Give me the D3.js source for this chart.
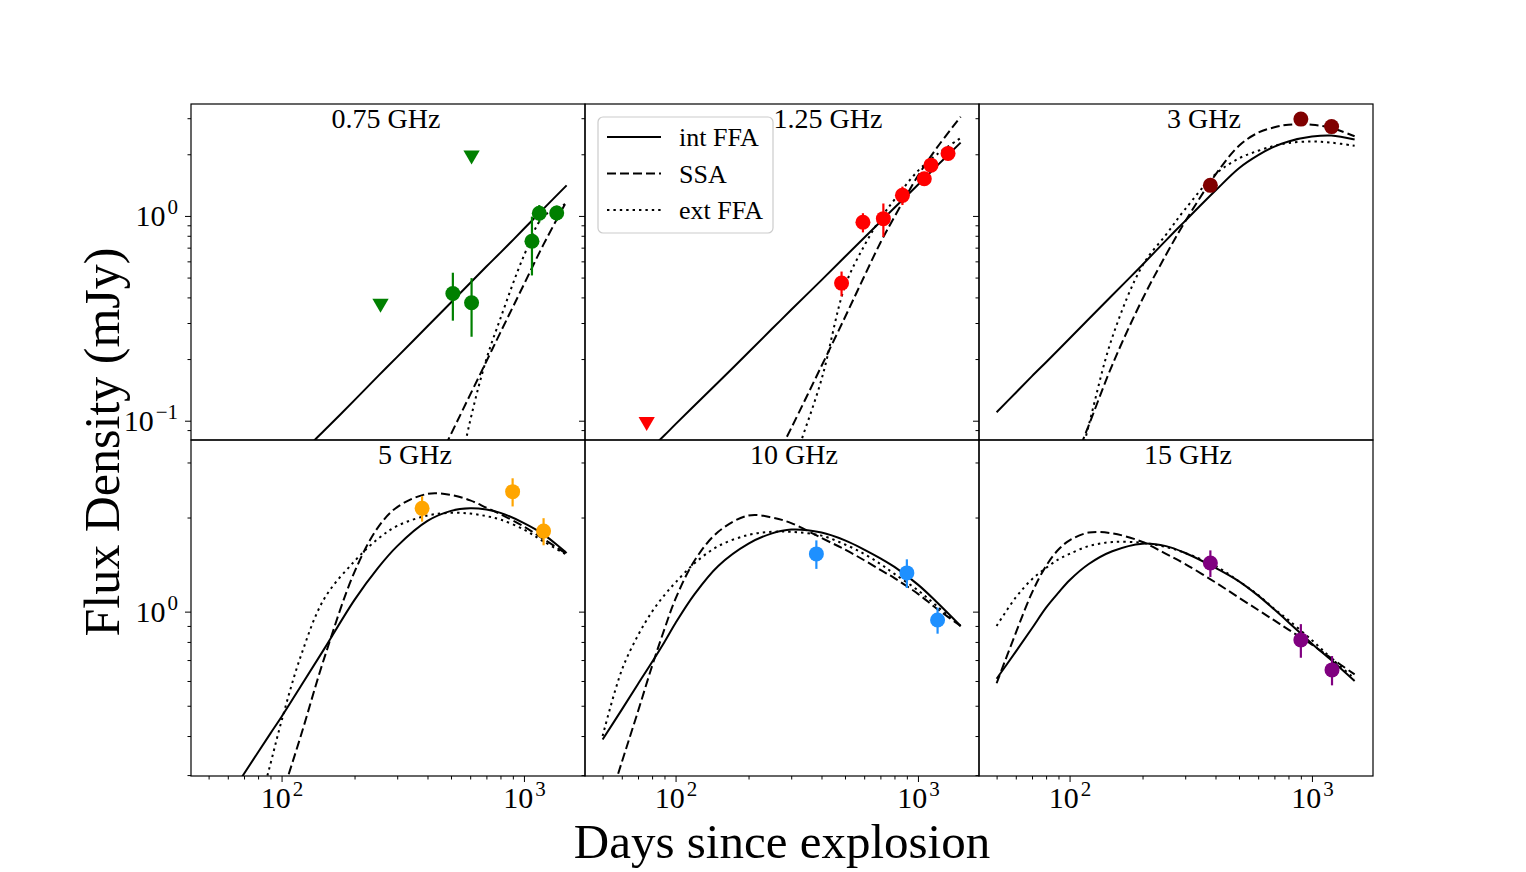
<!DOCTYPE html>
<html>
<head>
<meta charset="utf-8">
<script src="https://cdnjs.cloudflare.com/ajax/libs/d3/7.8.5/d3.min.js"></script>
<style>
  body { margin: 0; background: #fff; }
  svg { display: block; font-family: "Liberation Serif", "Times New Roman", serif; }
</style>
</head>
<body>
<svg id="chart" width="1526" height="872"></svg>
<script>
// Bands, one panel each
const bands = ["0.75 GHz", "1.25 GHz", "3 GHz", "5 GHz", "10 GHz", "15 GHz"];
const bandColors = ["green", "red", "#800000", "orange", "dodgerblue", "purple"];

// Model curves, sampled on this grid of days
const modelDays = [50, 60, 70, 80, 90, 100, 120, 150, 200, 250, 300, 400, 500, 600, 700, 800, 1000, 1200, 1500];

const intFFA = [
  [0.024, 0.030, 0.036, 0.042, 0.049, 0.055, 0.069, 0.0895, 0.126, 0.165, 0.205, 0.289, 0.378, 0.47, 0.566, 0.662, 0.865, 1.08, 1.41],
  [0.0428, 0.0529, 0.0634, 0.0741, 0.0849, 0.0962, 0.119, 0.154, 0.216, 0.281, 0.348, 0.486, 0.632, 0.782, 0.937, 1.096, 1.42, 1.76, 2.28],
  [0.110, 0.137, 0.165, 0.193, 0.222, 0.252, 0.314, 0.41, 0.578, 0.76, 0.946, 1.33, 1.71, 1.98, 2.18, 2.31, 2.44, 2.47, 2.36],
  [0.203, 0.252, 0.303, 0.355, 0.408, 0.461, 0.577, 0.76, 1.09, 1.38, 1.62, 1.95, 2.10, 2.14, 2.12, 2.07, 1.92, 1.77, 1.54],
  [0.39, 0.486, 0.587, 0.69, 0.80, 0.92, 1.14, 1.40, 1.65, 1.78, 1.83, 1.79, 1.69, 1.58, 1.48, 1.39, 1.22, 1.07, 0.90],
  [0.61, 0.745, 0.885, 1.03, 1.15, 1.26, 1.42, 1.56, 1.65, 1.62, 1.54, 1.38, 1.25, 1.125, 1.015, 0.925, 0.79, 0.70, 0.60]
];
const ssa = [
  [0.0003, 0.0005, 0.0007, 0.001, 0.0013, 0.0017, 0.0027, 0.0046, 0.0093, 0.016, 0.025, 0.05, 0.086, 0.134, 0.195, 0.27, 0.463, 0.72, 1.18],
  [0.0015, 0.002, 0.003, 0.004, 0.005, 0.0065, 0.01, 0.017, 0.035, 0.06, 0.092, 0.185, 0.32, 0.506, 0.74, 0.99, 1.57, 2.16, 3.05],
  [0.009, 0.013, 0.019, 0.028, 0.04, 0.055, 0.095, 0.187, 0.393, 0.646, 0.94, 1.59, 2.2, 2.55, 2.71, 2.79, 2.79, 2.69, 2.45],
  [0.04, 0.065, 0.10, 0.149, 0.198, 0.256, 0.40, 0.71, 1.34, 1.86, 2.16, 2.38, 2.36, 2.27, 2.15, 2.05, 1.87, 1.71, 1.53],
  [0.21, 0.33, 0.48, 0.67, 0.88, 1.10, 1.46, 1.80, 2.03, 2.00, 1.92, 1.72, 1.58, 1.46, 1.36, 1.28, 1.14, 1.02, 0.90],
  [0.59, 0.855, 1.15, 1.40, 1.58, 1.69, 1.79, 1.78, 1.67, 1.53, 1.42, 1.24, 1.108, 1.012, 0.937, 0.876, 0.784, 0.71, 0.63]
];
const extFFA = [
  [0.0002, 0.0003, 0.0004, 0.0005, 0.0006, 0.0008, 0.001, 0.0015, 0.002, 0.003, 0.005, 0.012, 0.035, 0.10, 0.20, 0.316, 0.64, 0.99, 1.15],
  [0.0002, 0.0002, 0.0003, 0.0003, 0.0004, 0.0004, 0.0006, 0.001, 0.006, 0.023, 0.056, 0.159, 0.454, 0.714, 0.97, 1.20, 1.66, 2.0, 2.40],
  [0.005, 0.007, 0.01, 0.015, 0.025, 0.04, 0.095, 0.255, 0.573, 0.81, 1.08, 1.60, 1.91, 2.08, 2.20, 2.27, 2.31, 2.28, 2.20],
  [0.05, 0.09, 0.155, 0.23, 0.326, 0.447, 0.72, 1.10, 1.45, 1.71, 1.88, 2.03, 2.07, 2.06, 2.02, 1.97, 1.83, 1.68, 1.52],
  [0.40, 0.65, 0.84, 1.0, 1.13, 1.24, 1.43, 1.62, 1.76, 1.80, 1.80, 1.75, 1.64, 1.53, 1.42, 1.32, 1.17, 1.04, 0.90],
  [0.90, 1.11, 1.27, 1.38, 1.47, 1.53, 1.62, 1.67, 1.66, 1.61, 1.54, 1.40, 1.25, 1.13, 1.02, 0.94, 0.81, 0.71, 0.61]
];

// Detections (days, mJy, 1-sigma error)
const obsDays = [
  [509, 608, 1079, 1157, 1365],
  [484, 593, 720, 863, 1062, 1132, 1331],
  [381, 900, 1205],
  [380, 898, 1205],
  [381, 900, 1205],
  [381, 900, 1210]
];
const obsFlux = [
  [0.418, 0.377, 0.752, 1.03, 1.034],
  [0.47, 0.931, 0.97, 1.26, 1.52, 1.77, 2.02],
  [1.41, 2.97, 2.73],
  [2.14, 2.42, 1.81],
  [1.53, 1.33, 0.94],
  [1.43, 0.812, 0.651]
];
const obsErr = [
  [0.11, 0.12, 0.24, 0.1, 0.09],
  [0.065, 0.1, 0.18, 0.13, 0.12, 0.13, 0.15],
  [0.1, 0.15, 0.15],
  [0.2, 0.25, 0.18],
  [0.16, 0.14, 0.09],
  [0.14, 0.1, 0.07]
];

// Upper limits
const limDays = [[256, 608], [76], [], [], [], []];
const limFlux = [[0.374, 1.98], [0.099], [], [], [], []];

// Axis limits and ticks
const xLimits = [42.3, 1786];
const yLimitsTop = [0.0805, 3.52];
const yLimitsBottom = [0.298, 3.54];
const xMajor = [100, 1000];
const xMinor = [50, 60, 70, 80, 90, 200, 300, 400, 500, 600, 700, 800, 900];
const yMajorTop = [0.1, 1];
const yMinorTop = [0.09, 0.2, 0.3, 0.4, 0.5, 0.6, 0.7, 0.8, 0.9, 2, 3];
const yMajorBottom = [1];
const yMinorBottom = [0.3, 0.4, 0.5, 0.6, 0.7, 0.8, 0.9, 2, 3];

const legendNames = ["int FFA", "SSA", "ext FFA"];

// Layout
const plotLeft = 191, plotTop = 104, pw = 394, ph = 336;
const titleX = [195, 243, 225, 224, 209, 209];
const dashes = [null, "9,4", "2.4,4"];

const svg = d3.select("#chart");

const x = d3.scaleLog().domain(xLimits).range([0, pw]);
const yScales = [
  d3.scaleLog().domain(yLimitsTop).range([ph, 0]),
  d3.scaleLog().domain(yLimitsBottom).range([ph, 0])
];

// "10" with a raised exponent, serif like the rest
function powerLabels(sel) {
  sel.attr("font-family", null).attr("font-size", 30);
  sel.selectAll(".tick text").each(function(d) {
    const e = Math.round(Math.log10(d));
    const t = d3.select(this).text(null);
    t.append("tspan").text("10");
    t.append("tspan").attr("dx", 2).attr("dy", -12).attr("font-size", 21)
      .text(e < 0 ? "\u2212" + (-e) : e);
  });
}

const line = y => d3.line()
  .x(d => x(d[0]))
  .y(d => y(d[1]))
  .curve(d3.curveCatmullRom.alpha(0.5));

bands.forEach((band, i) => {
  const row = Math.floor(i / 3), col = i % 3;
  const y = yScales[row];
  const g = svg.append("g")
    .attr("transform", `translate(${plotLeft + col * pw},${plotTop + row * ph})`);

  g.append("clipPath").attr("id", "clip" + i)
    .append("rect").attr("width", pw).attr("height", ph);

  // y ticks (labels only on the left column)
  const yMajor = row === 0 ? yMajorTop : yMajorBottom;
  const yMinor = row === 0 ? yMinorTop : yMinorBottom;
  const ya = g.append("g")
    .call(d3.axisLeft(y).tickValues(yMajor).tickSize(6).tickPadding(7).tickFormat(col === 0 ? d3.format("") : () => ""));
  if (col === 0) ya.call(powerLabels);
  ya.select(".domain").remove();
  g.append("g")
    .call(d3.axisLeft(y).tickValues(yMinor).tickSize(3.5).tickFormat(() => ""))
    .select(".domain").remove();

  // x ticks on bottom row only
  if (row === 1) {
    const xa = g.append("g").attr("transform", `translate(0,${ph})`)
      .call(d3.axisBottom(x).tickValues(xMajor).tickSize(6).tickPadding(5).tickFormat(d3.format("")));
    xa.call(powerLabels);
    xa.select(".domain").remove();
    g.append("g").attr("transform", `translate(0,${ph})`)
      .call(d3.axisBottom(x).tickValues(xMinor).tickSize(3.5).tickFormat(() => ""))
      .select(".domain").remove();
  }

  const plot = g.append("g").attr("clip-path", `url(#clip${i})`);

  // model curves
  [intFFA, ssa, extFFA].forEach((model, k) => {
    const pts = modelDays.map((t, j) => [t, model[i][j]]);
    plot.append("path")
      .attr("d", line(y)(pts))
      .attr("fill", "none")
      .attr("stroke", "black")
      .attr("stroke-width", 2)
      .attr("stroke-dasharray", dashes[k]);
  });

  // detections with error bars
  const obs = obsDays[i].map((t, j) => ({ t, f: obsFlux[i][j], e: obsErr[i][j] }));
  plot.selectAll(".err").data(obs).join("line")
    .attr("x1", d => x(d.t)).attr("x2", d => x(d.t))
    .attr("y1", d => y(d.f - d.e)).attr("y2", d => y(d.f + d.e))
    .attr("stroke", bandColors[i]).attr("stroke-width", 2.2);
  plot.selectAll(".pt").data(obs).join("circle")
    .attr("cx", d => x(d.t)).attr("cy", d => y(d.f))
    .attr("r", 7.5).attr("fill", bandColors[i]);

  // upper limits
  const lims = limDays[i].map((t, j) => ({ t, f: limFlux[i][j] }));
  plot.selectAll(".lim").data(lims).join("path")
    .attr("d", d3.symbol(d3.symbolTriangle, 115))
    .attr("transform", d => `translate(${x(d.t)},${y(d.f)}) rotate(180)`)
    .attr("fill", bandColors[i]);

  // panel title
  g.append("text")
    .attr("x", titleX[i]).attr("y", 24)
    .attr("text-anchor", "middle")
    .attr("font-size", 28)
    .text(band);

  g.append("rect")
    .attr("width", pw).attr("height", ph)
    .attr("fill", "none").attr("stroke", "black").attr("stroke-width", 1.2);
});

// legend in the 1.25 GHz panel
const leg = svg.append("g").attr("transform", `translate(${plotLeft + pw + 13},${plotTop + 13})`);
leg.append("rect")
  .attr("width", 175).attr("height", 116).attr("rx", 5)
  .attr("fill", "white").attr("fill-opacity", 0.85)
  .attr("stroke", "#cccccc").attr("stroke-width", 1.2);
legendNames.forEach((name, k) => {
  const ly = 20 + k * 36.5;
  leg.append("line")
    .attr("x1", 9).attr("x2", 63).attr("y1", ly).attr("y2", ly)
    .attr("stroke", "black").attr("stroke-width", 2)
    .attr("stroke-dasharray", dashes[k]);
  leg.append("text")
    .attr("x", 81).attr("y", ly + 9)
    .attr("font-size", 26)
    .text(name);
});

// axis titles
svg.append("text")
  .attr("x", plotLeft + 1.5 * pw).attr("y", 858)
  .attr("text-anchor", "middle")
  .attr("font-size", 49)
  .text("Days since explosion");

svg.append("text")
  .attr("transform", `translate(119,${plotTop + ph + 2}) rotate(-90)`)
  .attr("text-anchor", "middle")
  .attr("font-size", 50)
  .text("Flux Density (mJy)");
</script>
</body>
</html>
